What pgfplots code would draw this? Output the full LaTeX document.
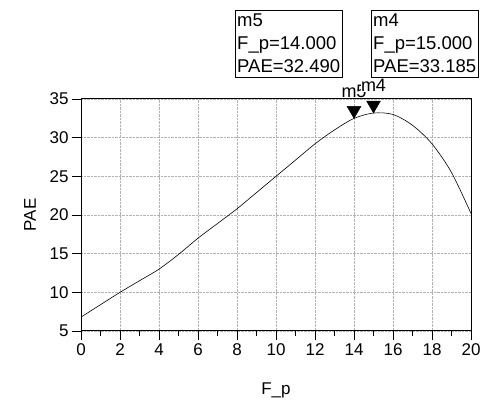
\documentclass[border=0pt]{standalone}
\usepackage{fontspec}
\setmainfont{Liberation Sans}
\usepackage{pgfplots}
\pgfplotsset{compat=1.18}
\begin{document}
\begin{tikzpicture}[x=1pt,y=1pt]
\useasboundingbox (0,0) rectangle (494,406);
\begin{axis}[at={(81pt,75pt)}, anchor=south west, scale only axis,
  width=390pt, height=232pt,
  xmin=0, xmax=20, ymin=5, ymax=35,
  xtick={0,2,...,20}, minor xtick={1,3,...,19}, ytick={5,10,...,35},
  tick align=outside, major tick length=9pt, minor tick length=5pt,
  xtick pos=bottom, ytick pos=left,
  grid=major, major grid style={densely dotted, gray!60, line width=0.6pt},
  tick style={black, line width=0.8pt},
  axis line style={line width=1pt},
  ticklabel style={font=\fontsize{17}{17}\selectfont},
  /pgf/number format/assume math mode=true,
  xlabel={F\_p}, ylabel={PAE},
  label style={font=\fontsize{17}{17}\selectfont},
  xlabel style={at={(axis description cs:0.5,-0.254)}, anchor=center},
  ylabel style={at={(axis description cs:-0.131,0.5)}, anchor=center},
  clip=false]
\addplot[black, line width=0.6pt, smooth] coordinates {
  (0,6.8) (1,8.4) (2,10.0) (3,11.5) (4,13.0) (5,14.9) (6,17.0) (7,18.9)
  (8,20.8) (9,22.9) (10,25.0) (11,27.1) (12,29.2) (13,31.0) (14,32.49)
  (15,33.185) (16,33.0) (17,31.6) (18,29.2) (19,25.5) (20,20.2)};
\addplot[only marks, mark=triangle*, mark size=8pt,
  mark options={black, fill=black, yshift=8pt, rotate=180},
  nodes near coords, point meta=explicit symbolic,
  nodes near coords style={anchor=south, yshift=13pt, inner sep=0pt,
    font=\fontsize{18}{18}\selectfont, fill=white, text=black}]
  table[meta=label] {
x y label
14 32.49 m5
15 33.185 m4
};
\end{axis}
\node[draw, anchor=north west, align=left, inner xsep=2pt, inner ysep=4pt,
  font=\fontsize{18.5}{23}\selectfont] at (235,396)
  {m5\\F\_p=14.000\\PAE=32.490};
\node[draw, anchor=north west, align=left, inner xsep=2pt, inner ysep=4pt,
  font=\fontsize{18.5}{23}\selectfont] at (371,396)
  {m4\\F\_p=15.000\\PAE=33.185};
\end{tikzpicture}
\end{document}
